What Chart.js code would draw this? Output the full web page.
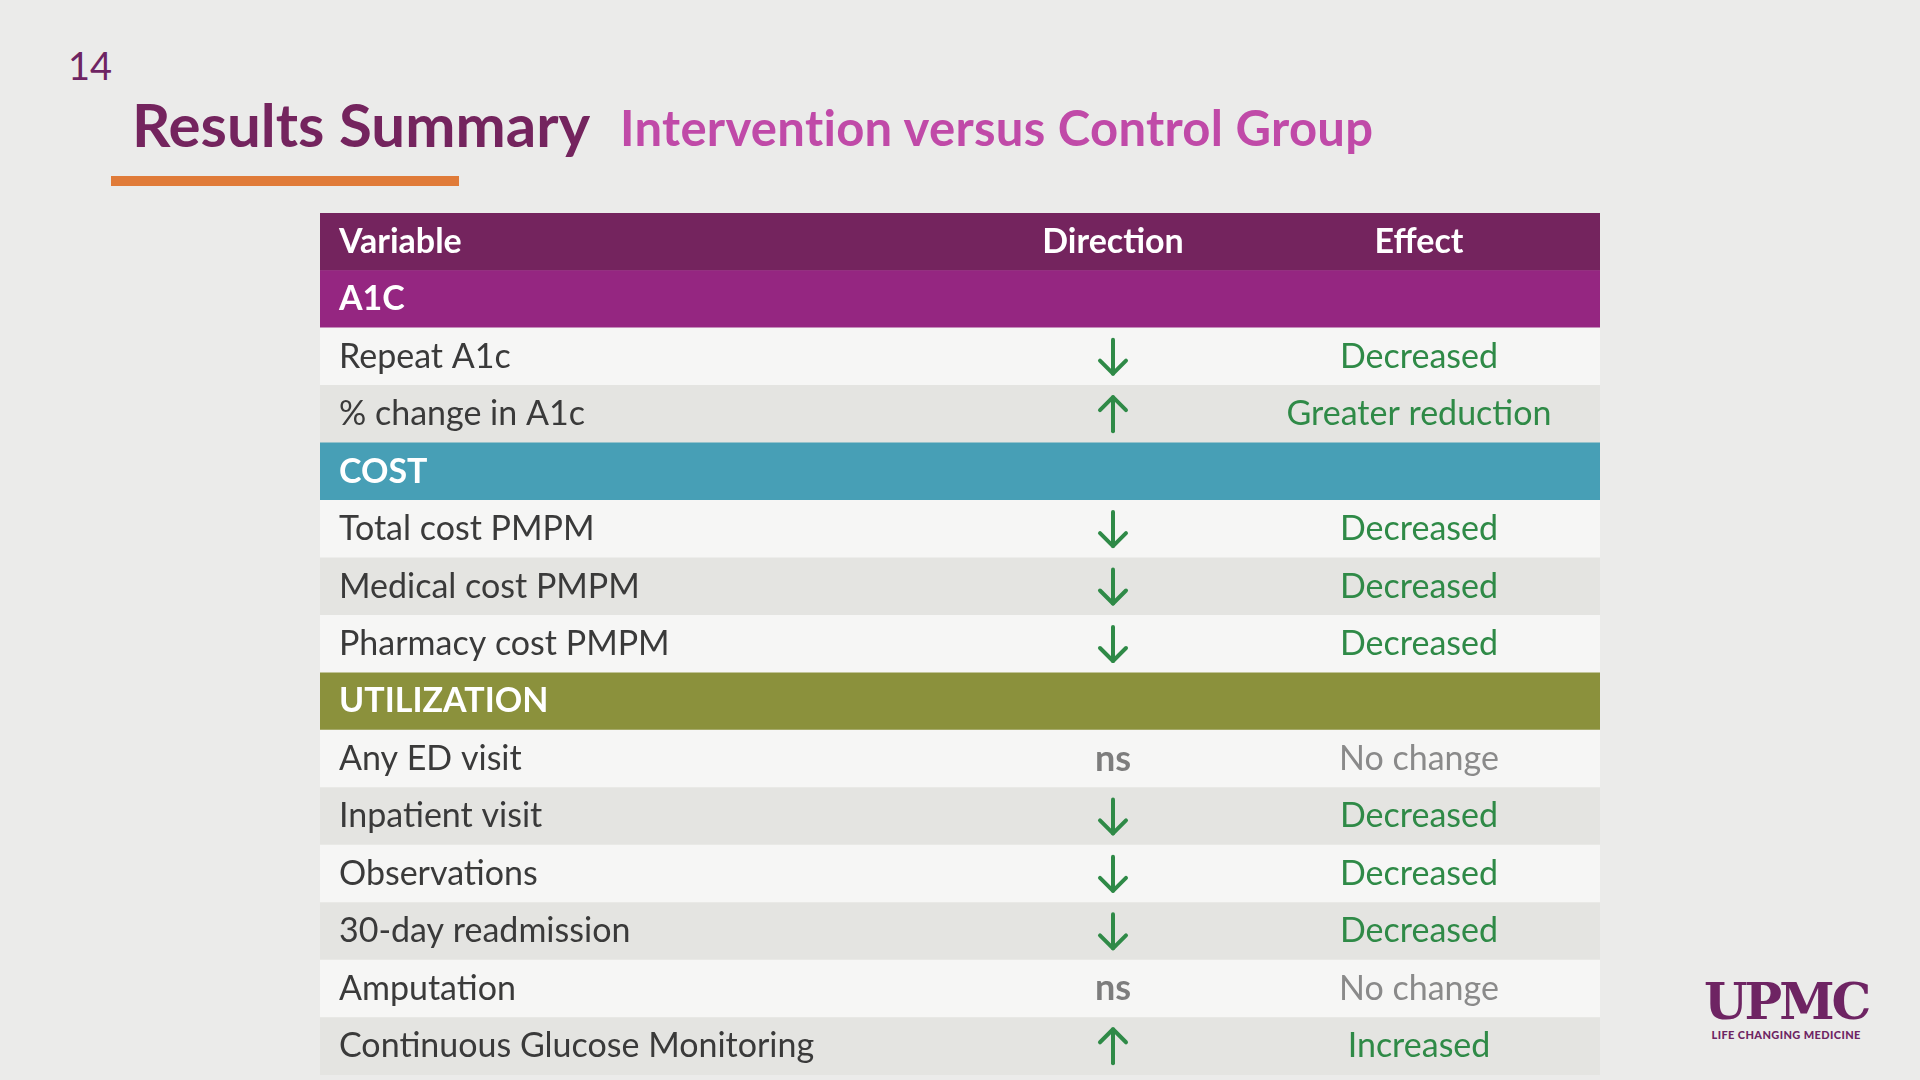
<!DOCTYPE html>
<html><head><meta charset="utf-8">
<script src="https://cdn.jsdelivr.net/npm/chart.js@4"></script>
<style>
body{margin:0;width:1920px;height:1080px;background:#ebebea;font-family:Lato,sans-serif;position:relative;overflow:hidden}
#num{position:absolute;left:68px;top:42px;font-size:38px;color:#6e2463}
#title{position:absolute;left:132px;top:88px;font-size:60px;font-weight:bold;color:#74245e}
#sub{position:absolute;left:620px;top:98px;font-size:49px;font-weight:bold;color:#c04aa8;letter-spacing:0.3px}
#bar{position:absolute;left:111px;top:176px;width:348px;height:10px;background:#e07b39}
#wrap{position:absolute;left:320px;top:213px;width:1280px;height:862px}
#logo{position:absolute;left:1704px;top:976px;color:#6e2463;text-align:center}
#logo .u{font-family:"DejaVu Serif",serif;font-weight:bold;font-size:50px;letter-spacing:-3px;line-height:52px}
#logo .l{font-size:11px;font-weight:900;letter-spacing:0.4px}
</style></head><body>
<div id="num">14</div>
<div id="title">Results Summary</div>
<div id="sub">Intervention versus Control Group</div>
<div id="bar"></div>
<div id="wrap"><canvas id="c"></canvas></div>
<div id="logo"><div class="u">UPMC</div><div class="l">LIFE CHANGING MEDICINE</div></div>
<script>
const variables = ['Variable','A1C','Repeat A1c','% change in A1c','COST','Total cost PMPM','Medical cost PMPM','Pharmacy cost PMPM','UTILIZATION','Any ED visit','Inpatient visit','Observations','30-day readmission','Amputation','Continuous Glucose Monitoring'];
const rowTypes = ['head','a1c','row','row','cost','row','row','row','util','row','row','row','row','row','row'];
const directions = ['Direction','','down','up','','down','down','down','','ns','down','down','down','ns','up'];
const effects = ['Effect','','Decreased','Greater reduction','','Decreased','Decreased','Decreased','','No change','Decreased','Decreased','Decreased','No change','Increased'];

const typeColor = {head:'#74245e',a1c:'#952681',cost:'#479fb6',util:'#8b913c'};
let stripe = 0;
const fills = rowTypes.map(t => {
  if (typeColor[t]) { stripe = 0; return typeColor[t]; }
  return (stripe++ % 2 === 0) ? '#f6f6f5' : '#e4e4e1';
});

function arrow(ctx, x, y, up) {
  ctx.save();
  ctx.strokeStyle = '#2f8a47'; ctx.lineWidth = 4; ctx.lineCap = 'round'; ctx.lineJoin = 'round';
  const h = 17, s = up ? -1 : 1;
  ctx.beginPath(); ctx.moveTo(x, y - s*h); ctx.lineTo(x, y + s*h); ctx.stroke();
  ctx.beginPath(); ctx.moveTo(x - 13, y + s*(h-13)); ctx.lineTo(x, y + s*h); ctx.lineTo(x + 13, y + s*(h-13)); ctx.stroke();
  ctx.restore();
}

const textPlugin = {
  id: 'tableText',
  afterDatasetsDraw(chart) {
    const ctx = chart.ctx, y = chart.scales.y, x = chart.scales.x;
    const left = x.getPixelForValue(0);
    const dirX = left + 793, effX = left + 1099;
    ctx.save();
    ctx.textBaseline = 'middle';
    variables.forEach((v, i) => {
      const py = y.getPixelForValue(i);
      const t = rowTypes[i];
      const bold = t !== 'row';
      ctx.font = (bold ? 'bold ' : '') + '34px Lato';
      ctx.fillStyle = bold ? '#ffffff' : '#3a3a3a';
      ctx.textAlign = 'left';
      ctx.fillText(v, left + 19, py);
      const d = directions[i], e = effects[i];
      ctx.textAlign = 'center';
      if (t === 'head') {
        ctx.fillText(d, dirX, py); ctx.fillText(e, effX, py);
      } else if (t === 'row') {
        if (d === 'ns') { ctx.font = 'bold 36px Lato'; ctx.fillStyle = '#7d7d7d'; ctx.fillText('ns', dirX, py); }
        else arrow(ctx, dirX, py, d === 'up');
        ctx.font = '34px Lato';
        ctx.fillStyle = e === 'No change' ? '#8a8a8a' : '#2f8a47';
        ctx.fillText(e, effX, py);
      }
    });
    ctx.restore();
  }
};

new Chart(document.getElementById('c'), {
  type: 'bar',
  data: { labels: variables, datasets: [{ data: variables.map(() => 1), backgroundColor: fills, barPercentage: 1, categoryPercentage: 1, borderWidth: 0 }] },
  options: {
    indexAxis: 'y', responsive: true, maintainAspectRatio: false, animation: false,
    layout: { padding: 0 },
    plugins: { legend: { display: false }, tooltip: { enabled: false } },
    scales: { x: { display: false, min: 0, max: 1 }, y: { display: false } }
  },
  plugins: [textPlugin]
});
</script>
</body></html>
